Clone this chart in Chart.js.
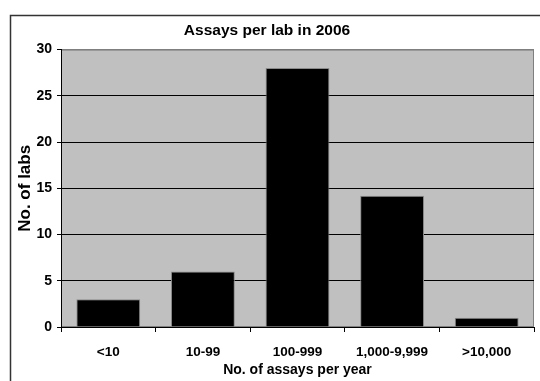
<!DOCTYPE html>
<html>
<head>
<meta charset="utf-8">
<script src="https://cdn.jsdelivr.net/npm/chart.js@4.4.1/dist/chart.umd.min.js"></script>
<style>
  html, body { margin: 0; padding: 0; background: #fff; }
  canvas { display: block; }
</style>
</head>
<body>
<canvas id="chart" width="540" height="381"></canvas>
<script>
// Data
const categories = ['<10', '10-99', '100-999', '1,000-9,999', '>10,000'];
const labCounts = [3, 6, 28, 14.2, 1];
const yTickValues = [0, 5, 10, 15, 20, 25, 30];
const chartTitle = 'Assays per lab in 2006';
const xAxisTitle = 'No. of assays per year';
const yAxisTitle = 'No. of labs';

const FONT = "'Liberation Sans', Arial, Helvetica, sans-serif";

// Paints the white page, the outer frame and the grey plot area
const backdropPlugin = {
  id: 'backdrop',
  beforeDraw(chart) {
    const { ctx, chartArea: a, width, height } = chart;
    ctx.save();
    ctx.fillStyle = '#ffffff';
    ctx.fillRect(0, 0, width, height);

    ctx.strokeStyle = '#333333';
    ctx.lineWidth = 1.5;
    ctx.beginPath();
    ctx.moveTo(10.5, height + 2);
    ctx.lineTo(10.5, 15.5);
    ctx.lineTo(width + 2, 15.5);
    ctx.stroke();

    ctx.fillStyle = '#c0c0c0';
    ctx.fillRect(a.left, a.top, a.right - a.left, a.bottom - a.top);
    ctx.strokeStyle = '#7f7f7f';
    ctx.lineWidth = 1;
    ctx.strokeRect(a.left + 0.5, a.top + 0.5, a.right - a.left - 1, a.bottom - a.top - 1);
    ctx.restore();
  }
};

new Chart(document.getElementById('chart'), {
  type: 'bar',
  data: {
    labels: categories,
    datasets: [{
      data: labCounts,
      backgroundColor: '#000000',
      borderColor: '#8a8a8a',
      borderWidth: 1,
      barPercentage: 0.675,
      categoryPercentage: 1.0
    }]
  },
  options: {
    responsive: false,
    animation: false,
    devicePixelRatio: 1,
    layout: { padding: { left: 0, right: 6, top: 0, bottom: 0 } },
    plugins: {
      legend: { display: false },
      tooltip: { enabled: false },
      title: {
        display: true,
        text: chartTitle,
        color: '#000',
        font: { family: FONT, size: 15.5, weight: 'bold' },
        padding: { top: 21, bottom: 10 }
      }
    },
    scales: {
      x: {
        offset: true,
        grid: {
          offset: true,
          drawOnChartArea: false,
          drawTicks: true,
          tickLength: 5,
          color: '#000'
        },
        border: { display: true, color: '#000', width: 1 },
        ticks: {
          color: '#000',
          padding: 12,
          maxRotation: 0,
          font: { family: FONT, size: 13.5, weight: 'bold' }
        },
        title: {
          display: true,
          text: xAxisTitle,
          color: '#000',
          font: { family: FONT, size: 14, weight: 'bold' },
          padding: { top: 0, bottom: 2 }
        },
        afterFit(scale) { scale.height = 54; }
      },
      y: {
        min: 0,
        max: 30,
        afterBuildTicks(scale) {
          scale.ticks = yTickValues.map(v => ({ value: v }));
        },
        grid: {
          drawTicks: true,
          tickLength: 4,
          color: c => (c.tick && c.tick.value === 30 ? '#7f7f7f' : '#000'),
          tickColor: '#000',
          lineWidth: 1
        },
        border: { display: true, color: '#000', width: 1 },
        ticks: {
          color: '#000',
          padding: 5,
          font: { family: FONT, size: 14, weight: 'bold' }
        },
        title: {
          display: true,
          text: yAxisTitle,
          color: '#000',
          font: { family: FONT, size: 17, weight: 'bold' },
          padding: { top: 15, bottom: 0 }
        },
        afterFit(scale) { scale.width = 61; }
      }
    }
  },
  plugins: [backdropPlugin]
});
</script>
</body>
</html>
